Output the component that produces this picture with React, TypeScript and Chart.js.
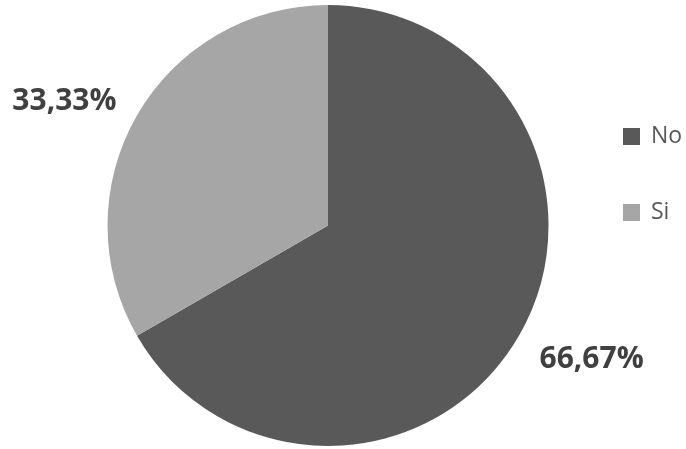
import React, { useEffect, useRef } from "react";
import { Chart, registerables } from "chart.js";

Chart.register(...registerables);

const categories = ["No", "Si"];
const values = [66.67, 33.33];
const valueLabels = ["66,67%", "33,33%"];
const colors = ["#595959", "#a6a6a6"];

const labelPlugin = {
  id: "outsideLabels",
  afterDatasetsDraw(chart: any) {
    const ctx = chart.ctx;
    const meta = chart.getDatasetMeta(0);
    ctx.save();
    ctx.font = "bold 30px 'Open Sans'";
    ctx.fillStyle = "#404040";
    ctx.textAlign = "center";
    ctx.textBaseline = "middle";
    meta.data.forEach((arc: any, i: number) => {
      const p = arc.getProps(["x", "y", "startAngle", "endAngle", "outerRadius"], true);
      const mid = (p.startAngle + p.endAngle) / 2 - (4 * Math.PI) / 180;
      const r = p.outerRadius * 1.33;
      ctx.fillText(valueLabels[i], p.x + Math.cos(mid) * r, p.y + Math.sin(mid) * r + 5);
    });
    // legend
    ctx.font = "23px 'Open Sans'";
    ctx.textAlign = "left";
    ctx.textBaseline = "middle";
    const lx = 623;
    const ys = [136, 212];
    categories.forEach((c, i) => {
      ctx.fillStyle = colors[i];
      ctx.fillRect(lx, ys[i] - 8, 17, 17);
      ctx.fillStyle = "#595959";
      ctx.fillText(c, lx + 28, ys[i]);
    });
    ctx.restore();
  },
};

export default function App() {
  const ref = useRef<HTMLCanvasElement>(null);
  useEffect(() => {
    if (!ref.current) return;
    const chart = new Chart(ref.current, {
      type: "pie",
      data: {
        labels: categories,
        datasets: [
          {
            data: values,
            backgroundColor: colors,
            borderWidth: 0,
          },
        ],
      },
      options: {
        responsive: false,
        animation: false,
        layout: { padding: { left: 107, right: 137, top: 5, bottom: 3 } },
        plugins: {
          legend: { display: false },
          tooltip: { enabled: false },
        },
      },
      plugins: [labelPlugin],
    });
    return () => chart.destroy();
  }, []);
  return (
    <div style={{ position: "absolute", left: 0, top: 0, width: 686, height: 449, background: "#fff" }}>
      <canvas ref={ref} width={686} height={449} />
    </div>
  );
}
